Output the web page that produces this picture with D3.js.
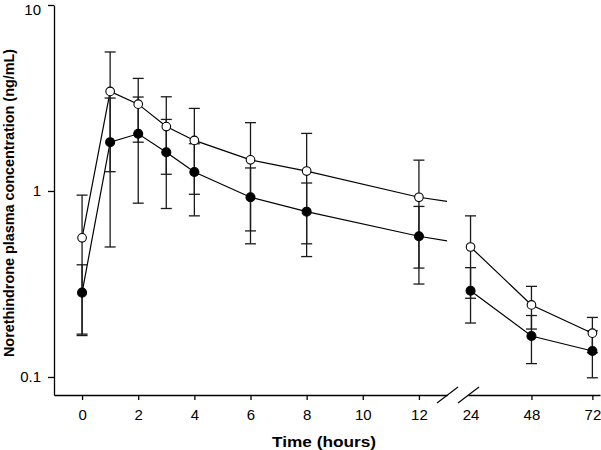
<!DOCTYPE html>
<html>
<head>
<meta charset="utf-8">
<script src="https://cdn.jsdelivr.net/npm/d3@7"></script>
<style>
  html, body { margin: 0; padding: 0; background: #fff; }
  svg { display: block; font-family: "Liberation Sans", Arial, sans-serif; }
</style>
</head>
<body>
<svg id="chart" width="601" height="450"></svg>
<script>
// ---- data ----
const times = [0, 1, 2, 3, 4, 6, 8, 12, 24, 48, 72];
const openMean   = [0.56, 3.43, 2.93, 2.22, 1.87, 1.47, 1.28, 0.925, 0.50, 0.244, 0.172];
const openSD     = [0.39, 2.16, 1.10, 0.99, 0.91, 0.86, 0.76, 0.54, 0.235, 0.063, 0.037];
const filledMean = [0.284, 1.83, 2.03, 1.615, 1.265, 0.925, 0.774, 0.571, 0.291, 0.166, 0.138];
const filledSD   = [0.117, 1.33, 1.17, 0.81, 0.53, 0.405, 0.33, 0.255, 0.096, 0.048, 0.039];
const xTicksEarly = [0, 2, 4, 6, 8, 10, 12];
const xTicksLate = [24, 48, 72];
const yTicks = [0.1, 1, 10];
const yTickLabels = ["0.1", "1", "10"];
const xTitle = "Time (hours)";
const yTitle = "Norethindrone plasma concentration (ng/mL)";

const svg = d3.select("#chart");

// scales: broken x-axis (two segments), log y-axis
const xEarly = d3.scaleLinear().domain([-1, 13]).range([54, 447]);
const xLate = d3.scaleLinear().domain([23, 75]).range([468, 600]);
const y = d3.scaleLog().domain([0.08, 10]).range([395, 5]);
const xPos = t => t <= 13 ? xEarly(t) : xLate(t);

const series = [
  { mean: openMean, sd: openSD, fill: "#fff", r: 4.3 },
  { mean: filledMean, sd: filledSD, fill: "#000", r: 4.5 }
];

// clip for the early segment
svg.append("defs").append("clipPath").attr("id", "clipEarly")
  .append("rect").attr("x", 54).attr("y", 0).attr("width", 447 - 54).attr("height", 450);

const lineEarly = d3.line().x(d => xEarly(d.t)).y(d => y(d.v));
const lineLate = d3.line().x(d => xLate(d.t)).y(d => y(d.v));

series.forEach(s => {
  const pts = times.map((t, i) => ({ t, v: s.mean[i], sd: s.sd[i] }));
  svg.append("path")
    .datum(pts.filter(p => p.t <= 24))
    .attr("clip-path", "url(#clipEarly)")
    .attr("d", lineEarly)
    .attr("fill", "none").attr("stroke", "#000").attr("stroke-width", 1.2);
  svg.append("path")
    .datum(pts.filter(p => p.t >= 24))
    .attr("d", lineLate)
    .attr("fill", "none").attr("stroke", "#000").attr("stroke-width", 1.2);
});

// error bars
series.forEach(s => {
  const pts = times.map((t, i) => ({ t, v: s.mean[i], sd: s.sd[i] }));
  const g = svg.append("g").attr("stroke", "#1a1a1a").attr("stroke-width", 1.3);
  pts.forEach(p => {
    const cx = xPos(p.t);
    const hi = y(p.v + p.sd);
    const lo = y(Math.max(p.v - p.sd, 0.081));
    g.append("line").attr("x1", cx).attr("x2", cx).attr("y1", hi).attr("y2", lo);
    g.append("line").attr("x1", cx - 5.5).attr("x2", cx + 5.5).attr("y1", hi).attr("y2", hi);
    g.append("line").attr("x1", cx - 5.5).attr("x2", cx + 5.5).attr("y1", lo).attr("y2", lo);
  });
});

// markers
series.forEach(s => {
  svg.append("g").selectAll("circle")
    .data(times.map((t, i) => ({ t, v: s.mean[i] })))
    .join("circle")
    .attr("cx", d => xPos(d.t)).attr("cy", d => y(d.v))
    .attr("r", s.r)
    .attr("fill", s.fill).attr("stroke", "#000").attr("stroke-width", 1.1);
});

// axes
function styleAxis(g) {
  g.selectAll("path, line").attr("stroke", "#000").attr("stroke-width", 1.3);
  g.selectAll("text").attr("font-size", 15).attr("fill", "#000")
    .attr("font-family", "'Liberation Sans', Arial, sans-serif");
}
svg.append("g").attr("transform", "translate(0,395)")
  .call(d3.axisBottom(xEarly).tickValues(xTicksEarly).tickSize(5).tickSizeOuter(0).tickPadding(9.5))
  .call(styleAxis);
const gLate = svg.append("g").attr("transform", "translate(0,395)")
  .call(d3.axisBottom(xLate).tickValues(xTicksLate).tickSize(5).tickSizeOuter(0).tickPadding(9.5))
  .call(styleAxis);
gLate.selectAll(".tick").filter(d => d === 24).select("line").attr("stroke-opacity", 0);

const gy = svg.append("g").attr("transform", "translate(54,0)")
  .call(d3.axisLeft(y).tickValues(yTicks).tickFormat((d, i) => yTickLabels[i]).tickSize(6).tickSizeOuter(0).tickPadding(7))
  .call(styleAxis);
gy.selectAll(".tick").filter(d => d === 10).select("text").attr("dy", "0.62em");

// axis break marks
[[437, 458], [458, 479]].forEach(([a, b]) => {
  svg.append("line").attr("x1", a).attr("y1", 403).attr("x2", b).attr("y2", 387)
    .attr("stroke", "#000").attr("stroke-width", 1.2);
});

// titles
svg.append("text")
  .attr("x", 324).attr("y", 446.5)
  .attr("text-anchor", "middle")
  .attr("font-size", 15).attr("font-weight", "bold")
  .attr("textLength", 104).attr("lengthAdjust", "spacingAndGlyphs")
  .text(xTitle);

svg.append("text")
  .attr("transform", "translate(14,203) rotate(-90)")
  .attr("text-anchor", "middle")
  .attr("font-size", 14.4).attr("font-weight", "bold")
  .attr("textLength", 308).attr("lengthAdjust", "spacingAndGlyphs")
  .text(yTitle);
</script>
</body>
</html>
